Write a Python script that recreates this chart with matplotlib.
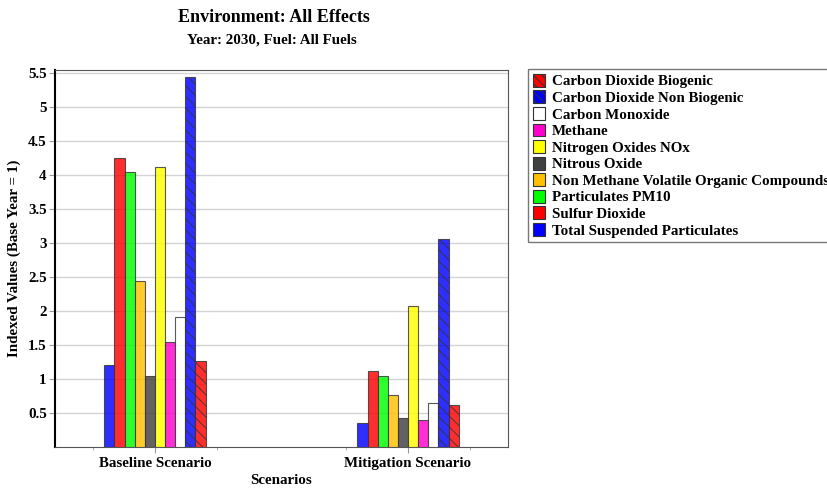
import matplotlib
matplotlib.use("Agg")
import matplotlib.pyplot as plt
from matplotlib.patches import Patch
import numpy as np

plt.rcParams['font.family'] = ['Liberation Serif', 'DejaVu Serif']
plt.rcParams['font.weight'] = 'bold'
plt.rcParams['hatch.linewidth'] = 0.7

scenarios = ["Baseline Scenario", "Mitigation Scenario"]

# bar order as drawn left to right inside each group
pollutants = ["Total Suspended Particulates", "Sulfur Dioxide", "Particulates PM10",
              "Non Methane Volatile Organic Compounds", "Nitrous Oxide",
              "Nitrogen Oxides NOx", "Methane", "Carbon Monoxide",
              "Carbon Dioxide Non Biogenic", "Carbon Dioxide Biogenic"]
baseline = [1.21, 4.24, 4.04, 2.44, 1.05, 4.12, 1.54, 1.91, 5.44, 1.27]
mitigation = [0.35, 1.12, 1.05, 0.76, 0.42, 2.07, 0.39, 0.64, 3.05, 0.61]

colors = ["#0000ff", "#ff0000", "#00ff00", "#ffc000", "#404040",
          "#ffff00", "#ff00cc", "#ffffff", "#0000ff", "#ff0000"]
hatches = ["", "", "", "", "", "", "", "", "\\\\\\", "\\\\\\"]

legend_order = ["Carbon Dioxide Biogenic", "Carbon Dioxide Non Biogenic", "Carbon Monoxide",
                "Methane", "Nitrogen Oxides NOx", "Nitrous Oxide",
                "Non Methane Volatile Organic Compounds", "Particulates PM10",
                "Sulfur Dioxide", "Total Suspended Particulates"]

fs = 10.8

fig = plt.figure(figsize=(8.28, 4.88), dpi=100)
ax = fig.add_axes([0.0664, 0.084, 0.5471, 0.7726])

x = np.arange(len(scenarios))
w = 0.04
vals = np.array([baseline, mitigation])
for i, p in enumerate(pollutants):
    ax.bar(x + (i - 4.5) * w, vals[:, i], w, color=colors[i], alpha=0.82,
           edgecolor="#333333", linewidth=0.8, hatch=hatches[i], zorder=3)

ax.set_xlim(-0.395, 1.395)
ax.set_ylim(0, 5.54)
ax.set_yticks(np.arange(0.5, 5.51, 0.5))
ax.set_yticklabels(["0.5", "1", "1.5", "2", "2.5", "3", "3.5", "4", "4.5", "5", "5.5"])
ax.set_xticks(x)
ax.set_xticklabels(scenarios)
ax.set_xticks([-0.245, 0.245, 0.755, 1.245], minor=True)
ax.tick_params(axis='both', labelsize=fs, colors='black', length=4)
ax.tick_params(axis='y', color='#999999', pad=2)
ax.tick_params(axis='x', which='both', color='#999999', pad=3)
ax.grid(axis='y', color='#d4d4d4', linewidth=1, zorder=0)
for s in ["top", "right", "bottom"]:
    ax.spines[s].set_color('#555555')
ax.spines["left"].set_linewidth(1.5)

ax.set_ylabel("Indexed Values (Base Year = 1)", fontsize=fs, fontweight='bold', labelpad=5)
ax.set_xlabel("Scenarios", fontsize=fs, fontweight='bold', labelpad=3)

fig.text(0.331, 0.965, "Environment: All Effects", ha='center', va='center',
         fontsize=13, fontweight='bold')
fig.text(0.328, 0.918, "Year: 2030, Fuel: All Fuels", ha='center', va='center',
         fontsize=fs, fontweight='bold')

handles = []
for name in legend_order:
    i = pollutants.index(name)
    handles.append(Patch(facecolor=colors[i], edgecolor="#333333", linewidth=0.8,
                         hatch=hatches[i].replace("\\\\\\", "\\\\\\\\")))
leg = fig.legend(handles, legend_order, loc='upper left', bbox_to_anchor=(0.6377, 0.858),
                 fontsize=fs, frameon=True, fancybox=False, edgecolor='#555555',
                 handlelength=0.85, handleheight=0.95, handletextpad=0.45,
                 labelspacing=0.13, borderpad=0.3, borderaxespad=0)
leg.get_frame().set_linewidth(1)

fig.savefig("out.png", dpi=100)
